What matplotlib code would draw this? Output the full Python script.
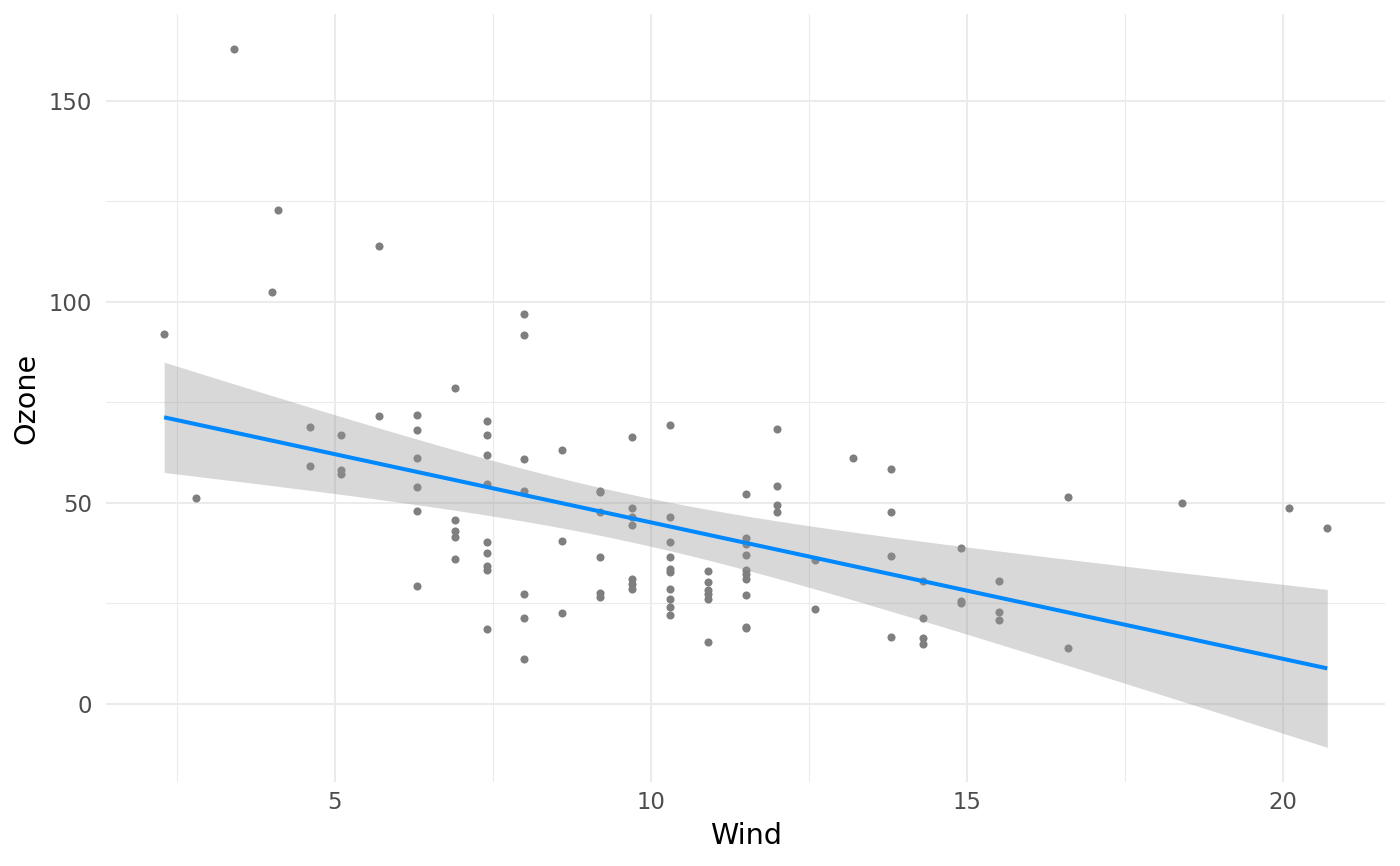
import numpy as np
import matplotlib
matplotlib.use("Agg")
import matplotlib.pyplot as plt

# --- data (wind value, ozone values at that wind) ---
wind_levels = [2.3, 2.8, 3.4, 4.0, 4.1, 4.6, 5.1, 5.7, 6.3, 6.9, 7.4, 8.0, 8.6, 9.2,
               9.7, 10.3, 10.9, 11.5, 12.0, 12.6, 13.2, 13.8, 14.3, 14.9, 15.5,
               16.6, 18.4, 20.1, 20.7]
ozone_groups = [
    [92.1],
    [51.2],
    [162.8],
    [102.5],
    [122.9],
    [68.8, 59.2],
    [66.8, 58.2, 57.2],
    [113.9, 71.5],
    [71.9, 68.2, 61.2, 54.0, 47.9, 29.3],
    [78.5, 45.7, 43.0, 41.5, 36.1],
    [70.3, 66.8, 61.8, 54.7, 40.3, 37.5, 34.2, 33.3, 18.6],
    [97.0, 91.8, 60.8, 52.9, 27.4, 21.5, 11.3],
    [63.1, 40.5, 22.5],
    [53.0, 52.6, 47.7, 36.6, 27.5, 26.7],
    [66.3, 48.8, 46.5, 44.6, 31.0, 29.8, 28.7],
    [69.4, 46.5, 40.3, 36.6, 33.5, 32.9, 28.6, 26.0, 24.0, 22.0],
    [33.1, 30.4, 28.3, 27.3, 26.1, 15.5],
    [52.1, 41.3, 39.7, 37.1, 33.3, 32.3, 31.2, 27.0, 19.2, 18.8],
    [68.5, 54.3, 49.4, 47.8],
    [35.7, 23.6],
    [61.1],
    [58.4, 47.7, 36.7, 16.6],
    [30.6, 21.5, 16.5, 14.8],
    [38.9, 25.7, 25.1],
    [30.5, 22.9, 21.0],
    [51.5, 14.0],
    [49.9],
    [48.8],
    [43.8],
]

# confidence band edges
band_wind = [2.3, 5.0, 7.5, 10.0, 12.5, 15.0, 17.5, 20.7]
band_hi = [84.5, 72.8, 60.1, 50.8, 44.4, 39.0, 34.6, 29.0]
band_lo = [57.0, 53.3, 45.5, 39.9, 30.5, 16.5, 5.0, -10.0]

wind = np.array([w for w, g in zip(wind_levels, ozone_groups) for _ in g])
ozone = np.array([v for g in ozone_groups for v in g])

# --- linear fit (geom_smooth(method="lm")) ---
b, a = np.polyfit(wind, ozone, 1)
xs = np.linspace(wind.min(), wind.max(), 120)
fit = a + b * xs

# band: half width^2 of an lm band is quadratic in x -> smooth the readings
bw = np.array(band_wind)
half = (np.array(band_hi) - np.array(band_lo)) / 2
c2 = np.polyfit(bw, half ** 2, 2)
hw = np.sqrt(np.clip(np.polyval(c2, xs), 0, None))
lo = fit - hw
hi = fit + hw

fig = plt.figure(figsize=(7, 4.33), dpi=200)
ax = fig.add_axes([0.0757, 0.0967, 0.9896 - 0.0757, 0.9834 - 0.0967])

ax.scatter(wind, ozone, s=8.5, color="#7f7f7f", linewidths=0, zorder=3)
ax.fill_between(xs, lo, hi, color="#999999", alpha=0.38, linewidth=0, zorder=4)
ax.plot(xs, fit, color="#0088ff", linewidth=1.45, zorder=5, solid_capstyle="butt")

# ggplot style 5% expansion
xr = wind.max() - wind.min()
ymin = min(ozone.min(), lo.min())
ymax = max(ozone.max(), hi.max())
yr = ymax - ymin
ax.set_xlim(wind.min() - 0.05 * xr, wind.max() + 0.05 * xr)
ax.set_ylim(ymin - 0.05 * yr, ymax + 0.05 * yr)

ax.set_xticks([5, 10, 15, 20])
ax.set_xticks([2.5, 7.5, 12.5, 17.5], minor=True)
ax.set_yticks([0, 50, 100, 150])
ax.set_yticks([25, 75, 125], minor=True)

ax.grid(True, which="major", color="#ebebeb", linewidth=0.75, zorder=0)
ax.grid(True, which="minor", color="#ebebeb", linewidth=0.4, zorder=0)
ax.set_axisbelow(True)
for sp in ax.spines.values():
    sp.set_visible(False)

ax.tick_params(axis="both", which="both", length=0, labelsize=8.2, labelcolor="#4d4d4d")
ax.tick_params(axis="x", pad=3.0)
ax.tick_params(axis="y", pad=5.0)

ax.set_xlabel("Wind", fontsize=10.3, color="black", labelpad=3)
ax.set_ylabel("Ozone", fontsize=10.3, color="black", labelpad=3)

fig.savefig("out.png", dpi=200, facecolor="white")
